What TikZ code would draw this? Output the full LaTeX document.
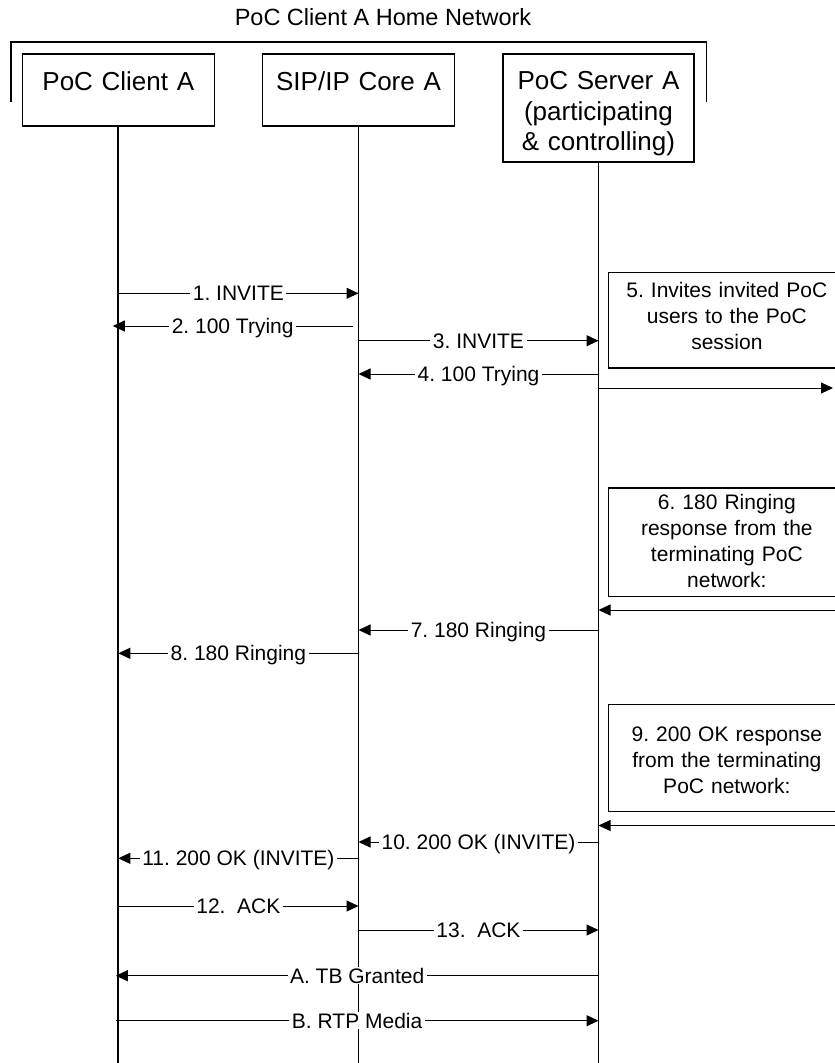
\documentclass[tikz,border=0pt]{standalone}
\usepackage{fontspec}
\setmainfont{Liberation Sans}
\usetikzlibrary{arrows.meta}
\frenchspacing
\begin{document}
\begin{tikzpicture}[x=1pt,y=-1pt,
  ent/.style={draw, line width=1.5pt, inner sep=0pt, align=center, font=\fontsize{26}{30.5}\selectfont, anchor=north},
  note/.style={draw, line width=1.2pt, inner sep=0pt, align=center, font=\fontsize{21}{26}\selectfont, anchor=north west, text width=237.5pt},
  life/.style={line width=1.8pt},
  msg/.style={line width=1pt, -{Triangle[length=12pt,width=11pt]}},
  lbl/.style={fill=white, inner xsep=2.5pt, inner ysep=1pt, text height=15pt, text depth=0pt, font=\fontsize{21}{26}\selectfont},
]
\useasboundingbox (0,0) rectangle (835,1063);

% title and bracket
\node[font=\fontsize{23.5}{28}\selectfont, anchor=base, inner sep=0pt] (title) at (383,25) {PoC Client A Home Network};
\coordinate (bl) at (10.7,101.7);
\coordinate (br) at (706.5,101.7);
\draw[line width=1.6pt] (bl) -- (bl |- 0,41.7) -- (br |- 0,41.7) -- (br);

% entities
\node[ent, text width=192pt, text height=36.7pt, text depth=35pt] (ca) at (118.3,53.3) {PoC Client A};
\node[ent, text width=192pt, text height=36.7pt, text depth=35pt] (cb) at (358.5,53.3) {SIP/IP Core A};
\node[ent, text width=191pt, text height=35.7pt, text depth=72.4pt] (sa) at (598.5,53.3) {PoC Server A\\(participating\\\& controlling)};

% lifelines
\draw[life] (ca.south) -- (ca.south |- 0,1063);
\draw[life] (cb.south) -- (cb.south |- 0,1063);
\draw[life] (sa.south) -- (sa.south |- 0,1063);

% notes
\node[note, text height=25.3pt, text depth=70.3pt] (n5) at (607.5,271.7) {5. Invites invited PoC\\users to the PoC\\session};
\node[note, text height=21.5pt, text depth=86.9pt] (n6) at (607.5,487.3) {6. 180 Ringing\\response from the\\terminating PoC\\network:};
\node[note, text height=36.5pt, text depth=70.5pt] (n9) at (607.5,704) {9. 200 OK response\\from the terminating\\PoC network:};

\coordinate (edge) at (835,0);
\coordinate (edgeo) at (833,0);

% messages
\draw[msg] (ca.south |- 0,293.3) -- node[lbl]{1. INVITE} (cb.south |- 0,293.3);
\draw[msg] ([xshift=-6pt]cb.south |- 0,326) -- node[lbl]{2. 100 Trying} ([xshift=-5.5pt]ca.south |- 0,326);
\draw[msg] (cb.south |- 0,340.7) -- node[lbl]{3. INVITE} (sa.south |- 0,340.7);
\draw[msg] (sa.south |- 0,374) -- node[lbl]{4. 100 Trying} (cb.south |- 0,374);
\draw[msg] (sa.south |- 0,388) -- (edgeo |- 0,388);

\draw[msg] (edge |- 0,610) -- (sa.south |- 0,610);
\draw[msg] (sa.south |- 0,630) -- node[lbl]{7. 180 Ringing} (cb.south |- 0,630);
\draw[msg] (cb.south |- 0,653.3) -- node[lbl]{8. 180 Ringing} (ca.south |- 0,653.3);

\draw[msg] (edge |- 0,825.5) -- (sa.south |- 0,825.5);
\draw[msg] (sa.south |- 0,842) -- node[lbl]{10. 200 OK (INVITE)} (cb.south |- 0,842);
\draw[msg] (cb.south |- 0,858.3) -- node[lbl]{11. 200 OK (INVITE)} (ca.south |- 0,858.3);
\draw[msg] (ca.south |- 0,906) -- node[lbl]{12.\ \ ACK} (cb.south |- 0,906);
\draw[msg] (cb.south |- 0,930) -- node[lbl]{13.\ \ ACK} (sa.south |- 0,930);
\draw[msg] (sa.south |- 0,975.7) -- node[lbl]{A. TB Granted} ([xshift=-2.5pt]ca.south |- 0,975.7);
\draw[msg] ([xshift=-2.5pt]ca.south |- 0,1020.7) -- node[lbl]{B. RTP Media} (sa.south |- 0,1020.7);
\end{tikzpicture}
\end{document}
